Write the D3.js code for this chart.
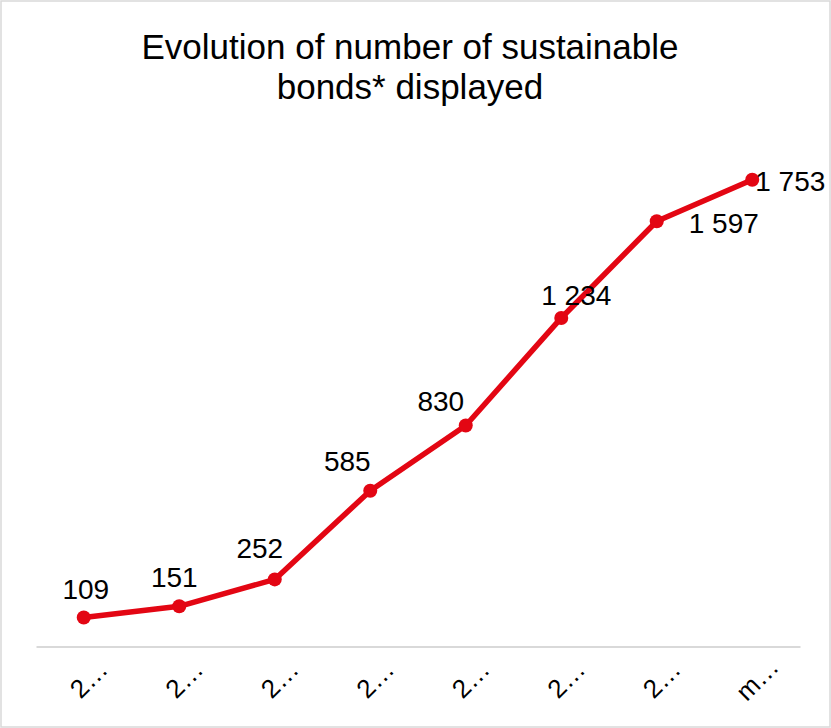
<!DOCTYPE html>
<html lang="en">
<head>
  <meta charset="UTF-8">
  <title>Evolution of number of sustainable bonds displayed</title>
  <style>
      body { margin: 0; background: #fff; }
      text { font-family: "Liberation Sans", Arial, sans-serif; fill: #000; }
  </style>
</head>
<body>
<div id="chart"></div>
<script src="https://d3js.org/d3.v7.min.js"></script>
<script>
  // data
  const tickLabels = ["2…", "2…", "2…", "2…", "2…", "2…", "2…", "m…"];
  const bondCounts = [109, 151, 252, 585, 830, 1234, 1597, 1753];
  const titleLines = ["Evolution of number of sustainable", "bonds* displayed"];

  // where each data label sits relative to its point (dx of centre, dy of baseline)
  const labelDx = [2, -5, -15, -23, -25, 15, 67, 38];
  const labelDy = [-18, -19, -21, -20, -15, -13, 12, 11];

  const W = 831, H = 728;
  const margin = {top: 114, right: 31, bottom: 81.5, left: 36};
  const red = "#e30613";

  const svg = d3.select("#chart").append("svg")
    .attr("width", W)
    .attr("height", H);

  svg.append("rect")
    .attr("x", 1).attr("y", 1)
    .attr("width", W - 2).attr("height", H - 2)
    .attr("fill", "#fff")
    .attr("stroke", "#d9d9d9")
    .attr("stroke-width", 1.5);

  svg.selectAll(".title")
    .data(titleLines)
    .enter().append("text")
    .attr("class", "title")
    .attr("x", 410)
    .attr("y", (d, i) => 59 + i * 40)
    .attr("text-anchor", "middle")
    .style("font-size", "35px")
    .text(d => d);

  const x = d3.scaleBand()
    .domain(d3.range(bondCounts.length))
    .range([margin.left, W - margin.right]);

  const y = d3.scaleLinear()
    .domain([0, 2000])
    .range([H - margin.bottom, margin.top]);

  // x axis
  const xAxis = svg.append("g")
    .attr("transform", `translate(0,${H - margin.bottom})`)
    .call(d3.axisBottom(x).tickSize(0).tickFormat(""));
  xAxis.select(".domain").attr("stroke", "#d9d9d9").attr("stroke-width", 2);

  svg.selectAll(".xlab")
    .data(tickLabels)
    .enter().append("text")
    .attr("class", "xlab")
    .attr("transform", (d, i) => `translate(${x(i) + x.bandwidth() / 2 + 5},${679}) rotate(-45)`)
    .attr("text-anchor", "middle")
    .attr("dominant-baseline", "central")
    .style("font-size", "26px")
    .text(d => d);

  const cx = i => x(i) + x.bandwidth() / 2;

  const line = d3.line()
    .x((d, i) => cx(i))
    .y(d => y(d));

  svg.append("path")
    .datum(bondCounts)
    .attr("fill", "none")
    .attr("stroke", red)
    .attr("stroke-width", 5.5)
    .attr("stroke-linejoin", "round")
    .attr("d", line);

  svg.selectAll(".dot")
    .data(bondCounts)
    .enter().append("circle")
    .attr("class", "dot")
    .attr("cx", (d, i) => cx(i))
    .attr("cy", d => y(d))
    .attr("r", 7)
    .attr("fill", red);

  const fmt = d3.formatLocale({decimal: ",", thousands: "\u00a0", grouping: [3], currency: ["", ""]}).format(",d");

  svg.selectAll(".lbl")
    .data(bondCounts)
    .enter().append("text")
    .attr("class", "lbl")
    .attr("x", (d, i) => cx(i) + labelDx[i])
    .attr("y", (d, i) => y(d) + labelDy[i])
    .attr("text-anchor", "middle")
    .style("font-size", "28px")
    .text(d => fmt(d));
</script>
</body>
</html>
